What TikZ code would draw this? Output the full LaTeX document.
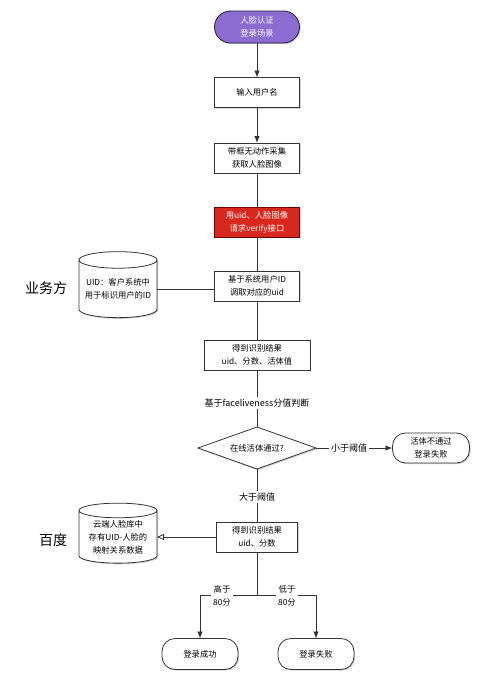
\documentclass[tikz,border=0pt]{standalone}
\usepackage{fontspec}
\setmainfont{Noto Sans CJK SC}
\usetikzlibrary{arrows.meta,shapes.geometric,shadows}

\definecolor{startpurple}{RGB}{140,108,208}
\definecolor{verifyred}{RGB}{214,40,30}

\begin{document}
\begin{tikzpicture}[x=1pt,y=-1pt,
  every node/.style={font=\fontsize{8.3}{13}\selectfont, align=center, inner sep=1pt, outer sep=0pt},
  box/.style={draw=black!80, fill=white, line width=0.8pt, minimum width=85pt, minimum height=30pt,
    drop shadow={shadow xshift=1.2pt, shadow yshift=-1.2pt, fill=black!35}},
  pill/.style={box, rounded corners=13pt, minimum width=76pt, minimum height=31pt},
  db/.style={cylinder, shape border rotate=90, aspect=0.25, draw=black!80, fill=white, line width=0.8pt,
    minimum width=78pt, minimum height=66pt, inner sep=0pt,
    drop shadow={shadow xshift=1.2pt, shadow yshift=-1.2pt, fill=black!35}},
  wire/.style={draw=black!80, line width=0.8pt},
  arr/.style={wire, -{Latex[length=7pt,width=5.5pt]}},
  openarr/.style={wire, -{Triangle[open,length=7pt,width=6pt]}},
  lbl/.style={fill=white, inner sep=2pt}]

\useasboundingbox (0,0) rectangle (500,688);

% main column
\node[box, rounded corners=16pt, fill=startpurple, draw=black!75!startpurple, text=white, minimum height=32pt] (start) at (257,27) {人脸认证\\登录场景};
\node[box] (input) at (257,92.5) {输入用户名};
\node[box] (capture) at (257,158) {带框无动作采集\\获取人脸图像};
\node[box, fill=verifyred, draw=red!45!black, text=white] (verify) at (257,222) {用uid、人脸图像\\请求verify接口};
\node[box] (lookup) at (257,286) {基于系统用户ID\\调取对应的uid};
\node[box, minimum width=106pt] (result) at (257,355) {得到识别结果\\uid、分数、活体值};
\node[lbl, font=\fontsize{9}{11}\selectfont] (facelbl) at (257,403) {基于faceliveness分值判断};
\node[diamond, draw=black!80, fill=white, line width=0.8pt, aspect=2.8, minimum width=118pt, minimum height=42pt, inner sep=0pt,
  drop shadow={shadow xshift=1.2pt, shadow yshift=-1.2pt, fill=black!35}] (live) at (257,448) {在线活体通过?};
\node[lbl, font=\fontsize{9}{11}\selectfont] (lesslbl) at (349,448) {小于阈值};
\node[pill, minimum width=77pt, minimum height=30pt] (fail) at (431,448) {活体不通过\\登录失败};
\node[lbl, font=\fontsize{9}{11}\selectfont] (morelbl) at (257,497) {大于阈值};
\node[box, minimum width=81pt] (result2) at (257,537) {得到识别结果\\uid、分数};

% left side
\node[db] (uiddb) at (118,289) {UID：客户系统中\\用于标识用户的ID};
\node[db, minimum height=60pt] (facedb) at (118,537) {云端人脸库中\\存有UID-人脸的\\映射关系数据};
\node[font=\fontsize{14}{16}\selectfont] (bizlbl) at (46,288) {业务方};
\node[font=\fontsize{14}{16}\selectfont] (bdlbl) at (53,540) {百度};

% bottom
\coordinate (split) at (257,595);
\node[pill] (success) at (200,654) {登录成功};
\node[pill] (loginfail) at (316,654) {登录失败};

\draw[arr] (start) -- (input);
\draw[arr] (input) -- (capture);
\draw[wire] (capture) -- (verify);
\draw[wire] (verify) -- (lookup);
\draw[wire] (lookup) -- (result);
\draw[wire] (uiddb.east) -- (uiddb.east -| lookup.west);
\draw[wire] (result) -- (facelbl);
\draw[wire] (facelbl) -- (live);
\draw[wire] (live) -- (lesslbl);
\draw[arr] (lesslbl) -- (fail);
\draw[wire] (live) -- (morelbl);
\draw[wire] (morelbl) -- (result2);
\draw[openarr] (result2) -- (facedb.east |- result2);
\draw[wire] (result2) -- (split);
\draw[arr] (split) -| (success);
\draw[arr] (split) -| (loginfail);
\node[lbl] (highlbl) at (222,596) {高于\\80分};
\node[lbl] (lowlbl) at (287,596) {低于\\80分};
\end{tikzpicture}
\end{document}
